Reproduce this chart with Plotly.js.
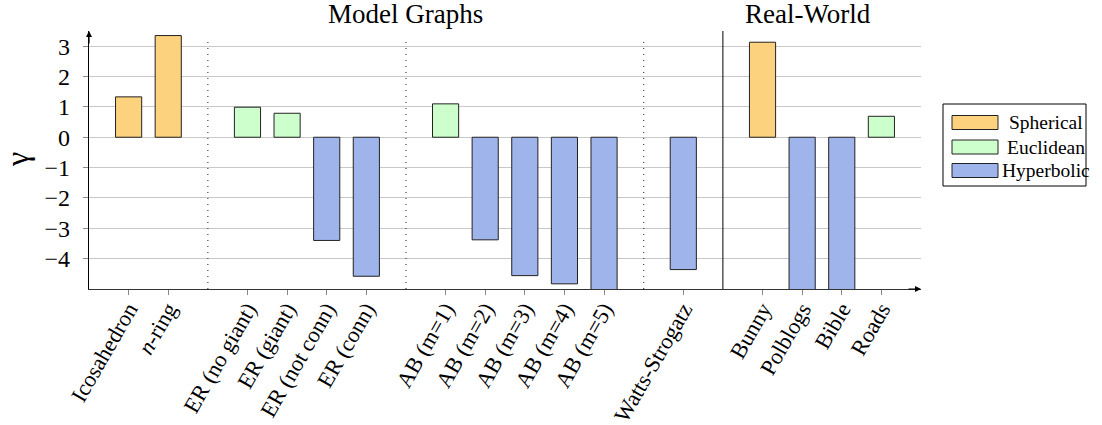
<!DOCTYPE html>
<html>
<head>
<meta charset="utf-8">
<script src="https://cdn.plot.ly/plotly-3.0.1.min.js"></script>
<style>html,body{margin:0;padding:0;background:#fff;}#chart{width:1102px;height:425px;}</style>
</head>
<body>
<div id="chart"></div>
<script>
// ---- data ----
const categories = ["Icosahedron", "<i>n</i>-ring", "ER (no giant)", "ER (giant)", "ER (not conn)", "ER (conn)",
  "AB (m=1)", "AB (m=2)", "AB (m=3)", "AB (m=4)", "AB (m=5)", "Watts-Strogatz",
  "Bunny", "Polblogs", "Bible", "Roads"];
const groups = ["sym", "sym", "ER", "ER", "ER", "ER", "AB", "AB", "AB", "AB", "AB", "WS", "real", "real", "real", "real"];
const gamma = [1.33, 3.35, 0.99, 0.79, -3.40, -4.58, 1.10, -3.38, -4.56, -4.83, -5.6, -4.36, 3.13, -5.6, -5.6, 0.69];
const curvature = ["Spherical", "Spherical", "Euclidean", "Euclidean", "Hyperbolic", "Hyperbolic",
  "Euclidean", "Hyperbolic", "Hyperbolic", "Hyperbolic", "Hyperbolic", "Hyperbolic",
  "Spherical", "Hyperbolic", "Hyperbolic", "Euclidean"];
const classes = ["Spherical", "Euclidean", "Hyperbolic"];
const sectionTitles = ["Model Graphs", "Real-World"];
const yLabel = "γ";

// ---- styles ----
const fills = {Spherical: "#FDD27F", Euclidean: "#CCFFCC", Hyperbolic: "#A0B4EC"};
const serif = "'Liberation Serif', 'Times New Roman', serif";

// positions: one empty slot between groups
const pos = [];
const gaps = [];
let p = 0;
for (let i = 0; i < categories.length; i++) {
  if (i > 0 && groups[i] !== groups[i - 1]) { gaps.push(p); p += 1; }
  pos.push(p); p += 1;
}

const traces = classes.map(c => {
  const xs = [], ys = [];
  for (let i = 0; i < categories.length; i++) if (curvature[i] === c) { xs.push(pos[i]); ys.push(gamma[i]); }
  return {
    type: "bar", name: c, x: xs, y: ys, width: 0.66,
    marker: {color: fills[c], line: {color: "#222", width: 1}},
    showlegend: false, hoverinfo: "x+y"
  };
});

// plot geometry in pixels (for legend placement)
const W = 1102, H = 425, mL = 89, mR = 181, mT = 31, mB = 136;
const pw = W - mL - mR, ph = H - mT - mB;
const px = x => (x - mL) / pw;
const py = y => (H - mB - y) / ph;

const shapes = [];
// section separators
gaps.forEach((g, k) => {
  const solid = (k === gaps.length - 1);
  shapes.push({type: "line", xref: "x", yref: "paper", x0: g, x1: g, y0: 0, y1: solid ? 1.0 : 0.97,
    line: {color: solid ? "#000" : "#444", width: solid ? 1 : 1.2, dash: solid ? "solid" : "1px,5px"}});
});

const annotations = [];
// section titles
annotations.push({xref: "x", yref: "paper", x: gaps[1], y: 1, yanchor: "bottom", showarrow: false,
  text: sectionTitles[0], font: {family: serif, size: 27, color: "#000"}});
annotations.push({xref: "x", yref: "paper", x: 17.15, y: 1, yanchor: "bottom", showarrow: false,
  text: sectionTitles[1], font: {family: serif, size: 27, color: "#000"}});
// y axis label
annotations.push({xref: "paper", yref: "paper", x: px(17), y: py(160), xanchor: "center", yanchor: "middle",
  showarrow: false, textangle: -90, text: yLabel, font: {family: serif, size: 32, color: "#000"}});
// axis arrows
annotations.push({xref: "paper", yref: "paper", x: 1.0, y: 0, ax: -14, ay: 0, showarrow: true, text: "",
  arrowhead: 2, arrowsize: 1, arrowwidth: 1.2, arrowcolor: "#000"});
annotations.push({xref: "paper", yref: "paper", x: 0, y: 1.0, ax: 0, ay: 14, showarrow: true, text: "",
  arrowhead: 2, arrowsize: 1, arrowwidth: 1.2, arrowcolor: "#000"});

// manual legend (box + swatches + labels)
shapes.push({type: "rect", xref: "paper", yref: "paper", x0: px(943), x1: px(1086), y0: py(186), y1: py(104),
  line: {color: "#000", width: 1}, fillcolor: "#fff"});
const rowY = [122.5, 147, 170.5];
classes.forEach((c, k) => {
  shapes.push({type: "rect", xref: "paper", yref: "paper", x0: px(952), x1: px(998),
    y0: py(rowY[k] + 7), y1: py(rowY[k] - 7), line: {color: "#222", width: 1}, fillcolor: fills[c]});
  annotations.push({xref: "paper", yref: "paper", x: px(1046), y: py(rowY[k]), xanchor: "center", yanchor: "middle",
    showarrow: false, text: c, font: {family: serif, size: 19.5, color: "#000"}});
});

const layout = {
  width: W, height: H,
  margin: {l: mL, r: mR, t: mT, b: mB},
  paper_bgcolor: "#fff", plot_bgcolor: "#fff",
  barmode: "overlay",
  showlegend: false,
  font: {family: serif, color: "#000"},
  xaxis: {
    range: [-1, 20], tickmode: "array", tickvals: pos, ticktext: categories,
    tickangle: -60, ticks: "outside", ticklen: 5, tickcolor: "#888", ticklabelstandoff: -8,
    tickfont: {family: serif, size: 22.5, color: "#000"},
    showgrid: false, zeroline: false, showline: true, linecolor: "#333", linewidth: 1.2
  },
  yaxis: {
    range: [-5, 3.5], tickmode: "array", tickvals: [-4, -3, -2, -1, 0, 1, 2, 3],
    ticks: "outside", ticklen: 5, tickcolor: "#888", ticklabelstandoff: 8,
    tickfont: {family: serif, size: 24, color: "#000"},
    showgrid: true, gridcolor: "#c8c8c8", gridwidth: 1,
    zeroline: false, showline: true, linecolor: "#000", linewidth: 1.2
  },
  shapes: shapes,
  annotations: annotations
};

Plotly.newPlot("chart", traces, layout, {displayModeBar: false, staticPlot: true});
</script>
</body>
</html>
